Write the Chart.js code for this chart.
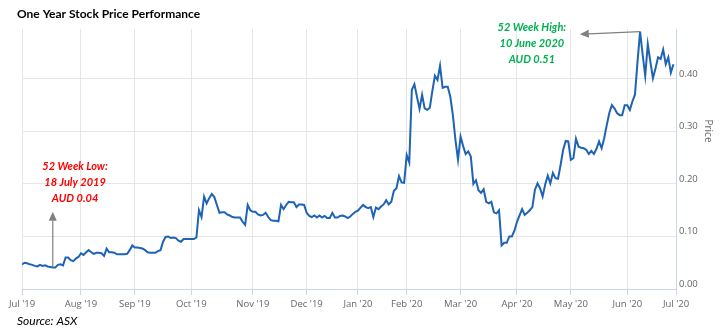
<!DOCTYPE html>
<html><head><meta charset="utf-8">
<script src="https://cdn.jsdelivr.net/npm/chart.js@4.4.1/dist/chart.umd.min.js"></script>
<style>html,body{margin:0;padding:0;background:#fff;}#wrap{width:725px;height:333px;position:relative;}</style>
</head><body><div id="wrap"><canvas id="c" width="725" height="333"></canvas></div>
<script>
// ---- data ----
const monthLabels = ["Jul '19","Aug '19","Sep '19","Oct '19","Nov '19","Dec '19","Jan '20","Feb '20","Mar '20","Apr '20","May '20","Jun '20","Jul '20"];
const monthStartIndex = [0,23,44,66,90,111,131,150,171,193,214,236,255];
const yTicks = [0, 0.1, 0.2, 0.3, 0.4];
// one closing price per trading day, Jul 2019 - Jun 2020
const prices = [
0.047,0.050,0.049,0.047,0.046,0.044,0.043,0.046,0.044,0.045,
0.043,0.042,0.041,0.041,0.046,0.047,0.045,0.060,0.060,0.055,
0.053,0.058,0.061,0.068,0.065,0.070,0.074,0.070,0.067,0.069,
0.069,0.068,0.063,0.077,0.070,0.070,0.069,0.066,0.066,0.066,
0.066,0.067,0.074,0.083,0.079,0.079,0.078,0.077,0.074,0.070,
0.069,0.069,0.069,0.072,0.074,0.090,0.099,0.100,0.097,0.098,
0.097,0.092,0.090,0.095,0.095,0.095,0.095,0.095,0.098,0.150,
0.137,0.176,0.163,0.173,0.181,0.175,0.160,0.145,0.146,0.146,
0.142,0.140,0.137,0.136,0.136,0.136,0.128,0.122,0.160,0.150,
0.147,0.147,0.142,0.140,0.141,0.145,0.137,0.131,0.130,0.130,
0.129,0.160,0.152,0.160,0.166,0.165,0.165,0.156,0.161,0.161,
0.160,0.145,0.139,0.137,0.140,0.136,0.140,0.136,0.139,0.135,
0.135,0.145,0.136,0.136,0.139,0.140,0.138,0.135,0.138,0.143,
0.147,0.149,0.155,0.160,0.156,0.154,0.156,0.137,0.155,0.152,
0.157,0.161,0.169,0.161,0.166,0.187,0.192,0.215,0.203,0.202,
0.255,0.241,0.379,0.390,0.366,0.343,0.370,0.344,0.341,0.345,
0.377,0.406,0.398,0.425,0.383,0.385,0.385,0.366,0.331,0.284,
0.246,0.290,0.272,0.257,0.262,0.252,0.200,0.207,0.188,0.183,
0.190,0.166,0.163,0.166,0.146,0.144,0.150,0.083,0.088,0.088,
0.100,0.100,0.111,0.128,0.140,0.152,0.141,0.145,0.150,0.156,
0.189,0.201,0.192,0.176,0.199,0.216,0.201,0.221,0.211,0.210,
0.236,0.265,0.282,0.281,0.246,0.249,0.286,0.271,0.269,0.268,
0.265,0.257,0.263,0.257,0.267,0.281,0.268,0.287,0.312,0.335,
0.350,0.344,0.335,0.331,0.331,0.350,0.350,0.341,0.357,0.370,
0.433,0.490,0.446,0.406,0.466,0.433,0.401,0.420,0.441,0.438,
0.456,0.428,0.441,0.412,0.428
];
const lowNote = ["52 Week Low:", "18 July 2019", "AUD 0.04"];
const highNote = ["52 Week High:", "10 June 2020", "AUD 0.51"];
const lowPoint = {x: 12, y: 0.041};
const highPoint = {x: 241, y: 0.490};
const chartTitle = "One Year Stock Price Performance";
const sourceText = "Source: ASX";
const yTitle = "Price";

// ---- drawing ----
const labelFont = "'Open Sans', 'Liberation Sans', sans-serif";
const noteFont = "Lato, 'Liberation Sans', sans-serif";

function drawArrow(ctx, x1, y1, x2, y2) {
  const a = Math.atan2(y2 - y1, x2 - x1), L = 9, W = 4;
  const bx = x2 - L * Math.cos(a), by = y2 - L * Math.sin(a);
  ctx.beginPath(); ctx.moveTo(x1, y1); ctx.lineTo(bx, by); ctx.stroke();
  ctx.beginPath(); ctx.moveTo(x2, y2);
  ctx.lineTo(bx - W * Math.sin(a), by + W * Math.cos(a));
  ctx.lineTo(bx + W * Math.sin(a), by - W * Math.cos(a));
  ctx.closePath(); ctx.fill();
}

const decor = {
  id: 'decor',
  afterDraw(chart) {
    const ctx = chart.ctx, xs = chart.scales.x, ys = chart.scales.y;
    ctx.save();
    // title
    ctx.fillStyle = '#000';
    ctx.font = "bold 12px " + noteFont;
    ctx.textAlign = 'left'; ctx.textBaseline = 'alphabetic';
    ctx.fillText(chartTitle, 17, 17.5);
    // source
    ctx.font = "italic 12px " + noteFont;
    ctx.fillText(sourceText, 17, 325);
    // y title
    ctx.save();
    ctx.fillStyle = '#666';
    ctx.font = "10px " + labelFont;
    ctx.translate(708, 131); ctx.rotate(Math.PI / 2);
    ctx.textAlign = 'center'; ctx.textBaseline = 'middle';
    ctx.fillText(yTitle, 0, 0);
    ctx.restore();
    // arrows
    ctx.strokeStyle = '#808080'; ctx.fillStyle = '#808080'; ctx.lineWidth = 1.2;
    const lx = xs.getPixelForValue(lowPoint.x);
    drawArrow(ctx, lx, ys.getPixelForValue(lowPoint.y), lx, ys.getPixelForValue(0.147));
    drawArrow(ctx, xs.getPixelForValue(highPoint.x), ys.getPixelForValue(highPoint.y),
              xs.getPixelForValue(217.5), ys.getPixelForValue(0.485));
    // notes
    ctx.font = "italic bold 11px " + noteFont;
    ctx.textAlign = 'center'; ctx.textBaseline = 'middle';
    ctx.fillStyle = '#ff0000';
    const lcx = xs.getPixelForValue(20.7), lcy = ys.getPixelForValue(0.234);
    lowNote.forEach((t, i) => ctx.fillText(t, lcx, lcy + i * 16));
    ctx.fillStyle = '#00b050';
    const hcx = xs.getPixelForValue(198.8), hcy = ys.getPixelForValue(0.497);
    highNote.forEach((t, i) => ctx.fillText(t, hcx, hcy + i * 16));
    ctx.restore();
  }
};

new Chart(document.getElementById('c'), {
  type: 'line',
  data: {
    datasets: [{
      data: prices.map((v, i) => ({x: i, y: v})),
      borderColor: '#1f63b5',
      borderWidth: 2,
      pointRadius: 0,
      tension: 0,
      fill: false
    }]
  },
  options: {
    responsive: false,
    animation: false,
    devicePixelRatio: 1,
    layout: {padding: {top: 29, left: 22, right: 0, bottom: 0}},
    plugins: {legend: {display: false}, title: {display: false}, tooltip: {enabled: false}},
    scales: {
      x: {
        type: 'linear', min: 0, max: 255,
        afterFit(s) { s.height = 44; },
        afterBuildTicks(s) { s.ticks = monthStartIndex.map(v => ({value: v})); },
        ticks: {
          autoSkip: false, maxRotation: 0, padding: 4,
          color: '#666', font: {family: labelFont, size: 9.5},
          callback(v) { const k = monthStartIndex.indexOf(v); return k >= 0 ? monthLabels[k] : ''; }
        },
        grid: {color: '#e6e6e6', tickColor: '#ccd6eb', tickLength: 6, drawTicks: true},
        border: {color: '#ccd6eb', width: 1}
      },
      y: {
        position: 'right', min: 0, max: 0.495,
        afterFit(s) { s.width = 49; },
        afterBuildTicks(s) { s.ticks = yTicks.map(v => ({value: v})); },
        ticks: {
          padding: 3, labelOffset: -5, color: '#666',
          font: {family: labelFont, size: 9.5},
          callback(v) { return v.toFixed(2); }
        },
        grid: {color: '#e6e6e6', drawTicks: false},
        border: {color: '#ccd6eb', width: 1}
      }
    }
  },
  plugins: [decor]
});
</script></body></html>
